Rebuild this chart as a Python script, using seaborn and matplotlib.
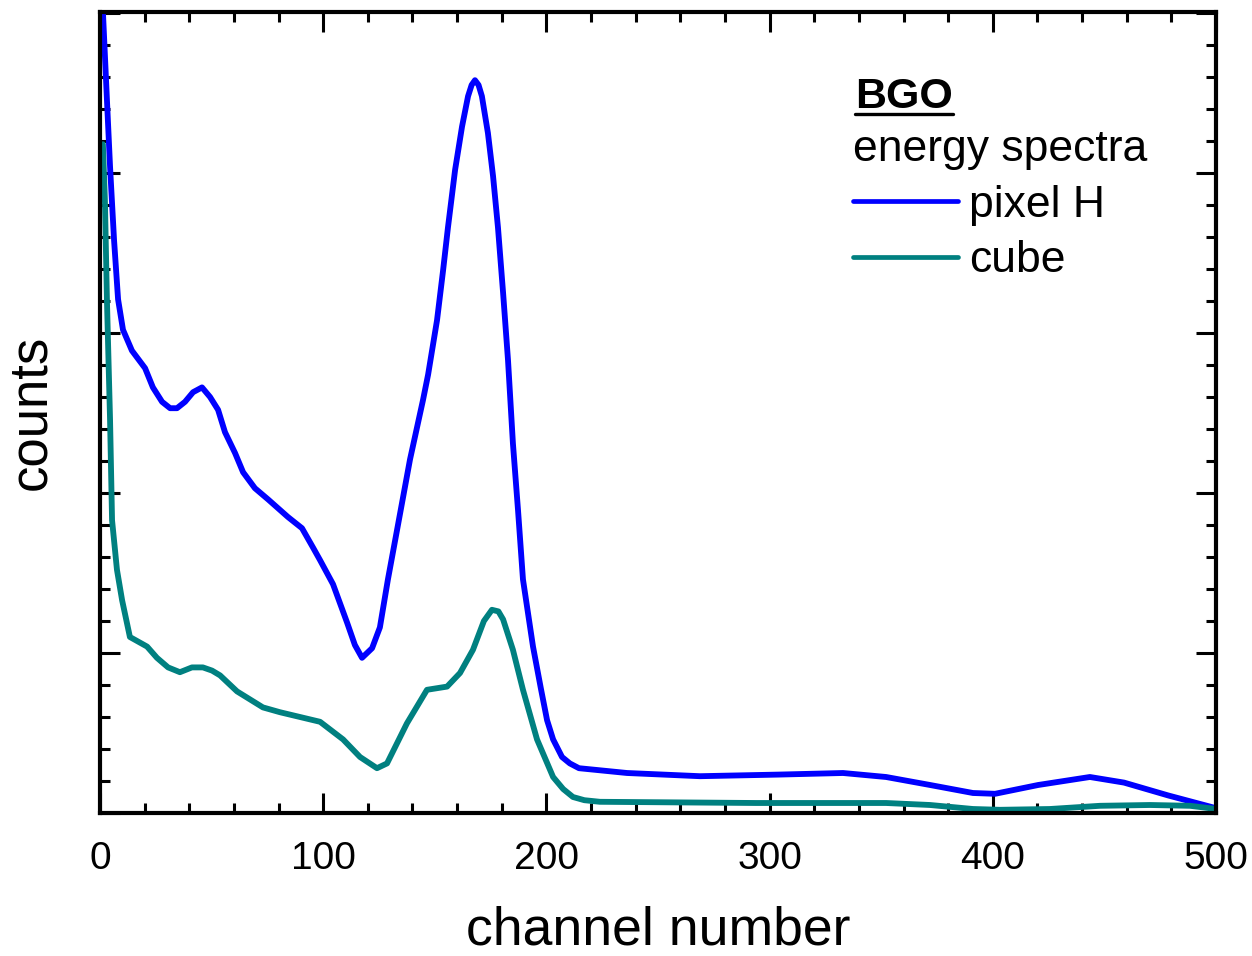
import numpy as np
import pandas as pd
import matplotlib
matplotlib.use("Agg")
import matplotlib.pyplot as plt
import seaborn as sns
from matplotlib.ticker import MultipleLocator, NullFormatter
from matplotlib.lines import Line2D

# --------------------------------------------------------------------------
# data (counts in arbitrary units)
# --------------------------------------------------------------------------
pixel_channel = [1.0, 1.3, 3.1, 4.5, 6.3, 8.1, 10.3, 14.3, 20.2, 23.7, 27.8, 31.4, 34.5,
                 38.1, 41.7, 45.7, 49.3, 52.9, 56.0, 60.5, 64.1, 69.4, 75.3, 84.2,
                 90.5, 95.4, 98.6, 104.4, 110.7, 114.2, 117.4, 121.9, 125.4, 129.0,
                 133.1, 138.9, 144.7, 147.0, 151.0, 153.7, 155.9, 159.1, 162.2,
                 164.9, 166.5, 168.0, 169.6, 171.1, 173.8, 176.1, 178.3, 180.6, 182.8, 185.0,
                 187.3, 189.5, 194.0, 197.5, 200.3, 203.0, 207.0, 210.5, 214.6, 236.1, 268.8,
                 303.8, 332.9, 352.2, 371.9, 391.1, 401.0, 420.3, 443.5, 458.8,
                 478.5, 500.0]
pixel_counts = [5.20, 5.01, 4.46, 4.04, 3.58, 3.21, 3.02, 2.89, 2.78, 2.66, 2.57, 2.53, 2.53,
                2.57, 2.63, 2.66, 2.60, 2.52, 2.38, 2.25, 2.13, 2.03, 1.96, 1.85,
                1.78, 1.66, 1.58, 1.43, 1.19, 1.05, 0.97, 1.03, 1.16, 1.46,
                1.77, 2.21, 2.58, 2.74, 3.08, 3.39, 3.66, 4.02, 4.29,
                4.48, 4.55, 4.58, 4.55, 4.48, 4.25, 3.98, 3.66, 3.25, 2.83, 2.31,
                1.89, 1.46, 1.04, 0.78, 0.58, 0.46, 0.35, 0.31, 0.28, 0.25, 0.23,
                0.24, 0.25, 0.225, 0.175, 0.125, 0.12, 0.175, 0.225, 0.19,
                0.11, 0.03]

cube_channel = [1.3, 2.2, 3.1, 4.5, 5.4, 7.6, 9.9, 13.4, 21.1, 25.5, 30.5, 35.8, 41.2,
                46.1, 50.2, 53.8, 61.4, 67.2, 73.0, 80.6, 89.6, 98.6, 108.9, 116.5,
                124.1, 128.6, 137.5, 146.5, 155.5, 161.3, 167.1, 172.0, 175.6, 178.5, 180.6,
                185.0, 189.5, 195.8, 203.0, 207.5, 211.9, 217.0, 224.0, 293.9, 352.2, 371.9,
                391.1, 403.2, 425.6, 448.0, 470.4, 488.4, 500.0]
cube_counts = [4.18, 3.83, 3.21, 2.46, 1.83, 1.52, 1.33, 1.10, 1.04, 0.97, 0.91, 0.88, 0.91,
               0.91, 0.89, 0.86, 0.76, 0.71, 0.66, 0.63, 0.60, 0.57, 0.46, 0.35,
               0.28, 0.31, 0.56, 0.77, 0.79, 0.875, 1.02, 1.20, 1.27, 1.26, 1.21,
               1.02, 0.77, 0.46, 0.225, 0.15, 0.10, 0.08, 0.07, 0.0625, 0.0625, 0.05,
               0.025, 0.02, 0.025, 0.045, 0.05, 0.045, 0.025]

series_names = ["pixel H", "cube"]
series_colors = ["#0000FF", "#008080"]
x_ticks = [0, 100, 200, 300, 400, 500]

df = pd.concat([
    pd.DataFrame({"channel": pixel_channel, "counts": pixel_counts, "spectrum": series_names[0]}),
    pd.DataFrame({"channel": cube_channel, "counts": cube_counts, "spectrum": series_names[1]}),
], ignore_index=True)

# --------------------------------------------------------------------------
# style
# --------------------------------------------------------------------------
sns.set_style("ticks")
plt.rcParams["font.family"] = ["Liberation Sans", "DejaVu Sans"]
plt.rcParams["text.color"] = "black"
plt.rcParams["axes.labelcolor"] = "black"
plt.rcParams["xtick.color"] = "black"
plt.rcParams["ytick.color"] = "black"

fig = plt.figure(figsize=(12.52, 9.56), dpi=100)
ax = fig.add_axes([100 / 1252, 143 / 956, 1116 / 1252, 801 / 956])

sns.lineplot(data=df, x="channel", y="counts", hue="spectrum", hue_order=series_names,
             palette=dict(zip(series_names, series_colors)), estimator=None,
             sort=True, linewidth=4.2, ax=ax, legend=False)

ax.set_xlim(0, 500)
ax.set_ylim(0, 801 / 160)
ax.set_xticks(x_ticks)
ax.set_xticklabels([str(t) for t in x_ticks])
ax.xaxis.set_minor_locator(MultipleLocator(20))
ax.yaxis.set_major_locator(MultipleLocator(1))
ax.yaxis.set_minor_locator(MultipleLocator(0.2))
ax.yaxis.set_major_formatter(NullFormatter())

ax.tick_params(which="both", direction="in", top=True, right=True, width=2.2, color="black")
ax.tick_params(which="major", length=14.5, labelsize=28, pad=20)
ax.tick_params(which="minor", length=7.5)
for sp in ax.spines.values():
    sp.set_visible(True)
    sp.set_linewidth(3)
    sp.set_color("black")

ax.set_xlabel("channel number", fontsize=38.5, labelpad=21)
ax.set_ylabel("counts", fontsize=38)
ax.yaxis.set_label_coords(-0.039, 0.5)

# legend block
handles = [Line2D([], [], color=c, lw=3.4, solid_capstyle="round") for c in series_colors]
leg = ax.legend(handles, series_names, title="energy spectra", loc="upper left",
                bbox_to_anchor=(0.675, 0.854), frameon=False, fontsize=32,
                title_fontsize=32, handlelength=2.35, handletextpad=0.25,
                labelspacing=0.33, borderpad=0, borderaxespad=0, alignment="left")

bgo = ax.text(0.6765, 0.880, "BGO", transform=ax.transAxes, fontsize=31,
              fontweight="bold", ha="left", va="baseline")
fig.canvas.draw()
bb = bgo.get_window_extent().transformed(ax.transAxes.inverted())
y_ul = 0.880 - 6 / 801
ax.add_artist(Line2D([bb.x0, bb.x1], [y_ul, y_ul], transform=ax.transAxes,
                     color="black", lw=2.4, clip_on=False))

fig.savefig("out.png", dpi=100)
